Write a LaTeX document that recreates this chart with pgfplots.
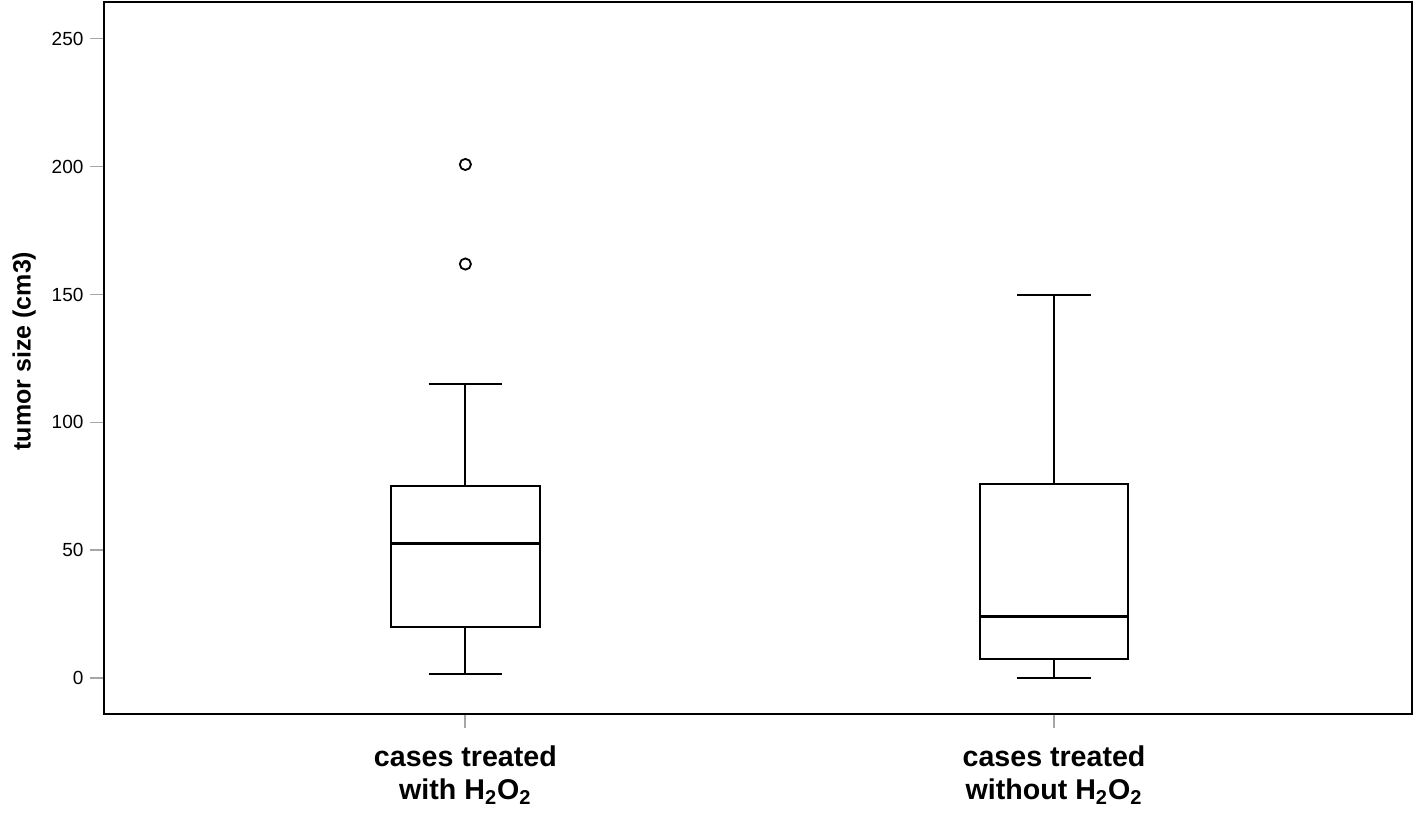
\documentclass[border=0pt]{standalone}
\usepackage{fontspec}
\setmainfont{Liberation Sans}
\usepackage{pgfplots}
\pgfplotsset{compat=1.18}
\pgfplotsset{bx/.style={black, line width=1pt, solid, mark=none}}
\begin{document}
\begin{tikzpicture}
\useasboundingbox (-52.25pt,-49.35pt) rectangle (656.75pt,357.15pt);
\begin{axis}[
  at={(0pt,0pt)}, anchor=south west,
  scale only axis,
  width=653.75pt, height=356.15pt,
  xmin=0.387, xmax=2.608,
  ymin=-14.07, ymax=264.3,
  xtick={1,2},
  xticklabels={{cases treated\\with H\textsubscript{2}O\textsubscript{2}},{cases treated\\without H\textsubscript{2}O\textsubscript{2}}},
  ytick={0,50,100,150,200,250},
  xtick pos=bottom, ytick pos=left,
  tick align=outside,
  major tick length=7pt,
  tick style={gray!70, line width=0.9pt},
  axis line style={line width=1pt},
  /pgf/number format/assume math mode=true,
  yticklabel style={font=\fontsize{9.5}{11}\selectfont},
  xticklabel style={font=\bfseries\fontsize{14.3}{16.8}\selectfont, align=center, yshift=-5pt},
  ylabel={tumor size (cm3)},
  ylabel style={font=\bfseries\fontsize{12.5}{14}\selectfont, at={(axis description cs:-0.0615,0.51)}, anchor=center},
]
% group 1: with H2O2 (whisker 1.8, Q1 19.9, median 52.8, Q3 75.3, whisker 115)
\addplot[bx] coordinates {(1,19.9) (1.12625,19.9) (1.12625,75.3) (0.87375,75.3) (0.87375,19.9) (1,19.9)};
\addplot[bx, line width=1.5pt] coordinates {(0.87375,52.8) (1.12625,52.8)};
\addplot[bx] coordinates {(1,19.9) (1,1.8)};
\addplot[bx] coordinates {(0.9375,1.8) (1.0625,1.8)};
\addplot[bx] coordinates {(1,75.3) (1,115)};
\addplot[bx] coordinates {(0.9375,115) (1.0625,115)};
\addplot[black, only marks, mark=o, mark size=2.8pt, mark options={line width=0.9pt, black, solid}] coordinates {(1,161.9) (1,200.8)};
% group 2: without H2O2 (whisker 0, Q1 7.4, median 24.1, Q3 75.9, whisker 149.8)
\addplot[bx] coordinates {(2,7.4) (2.12625,7.4) (2.12625,75.9) (1.87375,75.9) (1.87375,7.4) (2,7.4)};
\addplot[bx, line width=1.5pt] coordinates {(1.87375,24.1) (2.12625,24.1)};
\addplot[bx] coordinates {(2,7.4) (2,0)};
\addplot[bx] coordinates {(1.9375,0) (2.0625,0)};
\addplot[bx] coordinates {(2,75.9) (2,149.8)};
\addplot[bx] coordinates {(1.9375,149.8) (2.0625,149.8)};
\end{axis}
\end{tikzpicture}
\end{document}
